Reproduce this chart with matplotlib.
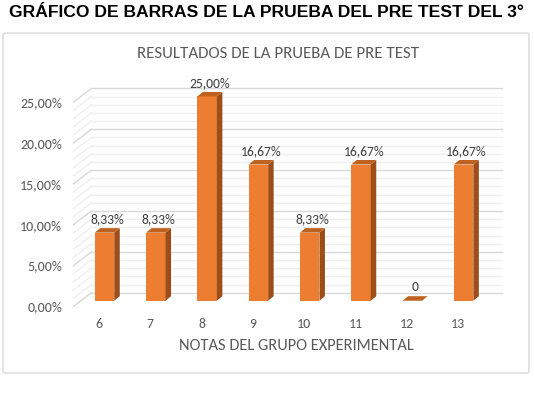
import matplotlib
matplotlib.use("Agg")
import matplotlib.pyplot as plt
from matplotlib.patches import Polygon, FancyBboxPatch
import numpy as np

# data
notas = ["6", "7", "8", "9", "10", "11", "12", "13"]
porcentajes = [8.33, 8.33, 25.00, 16.67, 8.33, 16.67, 0.0, 16.67]
etiquetas = ["8,33%", "8,33%", "25,00%", "16,67%", "8,33%", "16,67%", "0", "16,67%"]
yticks = [0, 5, 10, 15, 20, 25]
ytick_labels = ["0,00%", "5,00%", "10,00%", "15,00%", "20,00%", "25,00%"]

W, H = 534, 397
PX_X = 51.3   # px per category
PX_Y = 8.17   # px per percent

plt.rcParams['font.family'] = ['Carlito', 'Lato', 'DejaVu Sans']

fig = plt.figure(figsize=(W / 100, H / 100), dpi=100)

# axes placed so that category 0 sits at x=99px and 0% at y=306.5px
xlim = (-0.5, 8.2)
ylim = (-0.5, 30)
left_px = 99 + xlim[0] * PX_X
right_px = 99 + xlim[1] * PX_X
bot_px = 306.5 - ylim[0] * PX_Y
top_px = 306.5 - ylim[1] * PX_Y
ax = fig.add_axes([left_px / W, 1 - bot_px / H, (right_px - left_px) / W, (bot_px - top_px) / H])
ax.set_xlim(*xlim)
ax.set_ylim(*ylim)
ax.patch.set_alpha(0)
for s in ax.spines.values():
    s.set_visible(False)

# depth offsets (data units)
DX, DY = 18 / PX_X, 13.8 / PX_Y          # wall depth
BY = 5.8 / PX_Y                          # bar front face lift
BX = 5.5 / PX_X                          # bar front face shift
bdx, bdy = 5.5 / PX_X, 4.5 / PX_Y        # bar depth
bw = 19.5 / PX_X

# gridlines on back wall and side wall
x0, x1 = -0.5, 7.5
for v in range(0, 26):
    col = "#d9d9d9" if v % 5 == 0 else "#efefef"
    ax.plot([x0 + DX, x1 + DX], [v + DY, v + DY], color=col, lw=1, zorder=1, clip_on=False)
    ax.plot([x0, x0 + DX], [v, v + DY], color=col, lw=1, zorder=1, clip_on=False)

xs = np.arange(len(notas))
front = "#ed7d31"
side = "#9c4d1a"
topc = "#bf611f"
for x, v, lab in zip(xs, porcentajes, etiquetas):
    xl = x + BX - bw / 2
    xr = x + BX + bw / 2
    y0 = BY
    y1 = BY + v
    if v > 0:
        ax.add_patch(Polygon([(xl, y0), (xr, y0), (xr, y1), (xl, y1)], closed=True,
                             facecolor=front, edgecolor="none", zorder=3))
        ax.add_patch(Polygon([(xr, y0), (xr + bdx, y0 + bdy), (xr + bdx, y1 + bdy), (xr, y1)],
                             closed=True, facecolor=side, edgecolor="none", zorder=3))
    ax.add_patch(Polygon([(xl, y1), (xr, y1), (xr + bdx, y1 + bdy), (xl + bdx, y1 + bdy)],
                         closed=True, facecolor=topc, edgecolor="none", zorder=4))
    ax.text(x + BX + bdx / 2, y1 + bdy + 3 / PX_Y, lab, ha="center", va="bottom",
            fontsize=9.8, color="#404040", zorder=5)

ax.set_xticks(xs)
ax.set_xticklabels(notas)
ax.set_yticks(yticks)
ax.set_yticklabels(ytick_labels)
ax.tick_params(axis="both", length=0, labelsize=10, colors="#595959")
ax.tick_params(axis="x", pad=5)
ax.tick_params(axis="y", pad=8)
ax.set_xlabel("NOTAS DEL GRUPO EXPERIMENTAL", fontsize=11.8, color="#595959", labelpad=7)

# chart border
fig.patches.append(FancyBboxPatch((3 / W, 1 - 373 / H), 526 / W, 340 / H,
                                  boxstyle="round,pad=0,rounding_size=0.004",
                                  transform=fig.transFigure, facecolor="none",
                                  edgecolor="#d9d9d9", lw=1))

fig.text(278 / W, 1 - 54 / H, "RESULTADOS DE LA PRUEBA DE PRE TEST", ha="center",
         va="center", fontsize=12.2, color="#595959")
fig.text(266 / W, 1 - 17 / H, "GRÁFICO DE BARRAS DE LA PRUEBA DEL PRE TEST DEL 3°",
         ha="center", va="baseline", fontsize=12.6, fontweight="bold",
         family=["Liberation Sans", "DejaVu Sans"], color="black")

fig.savefig("out.png", dpi=100)
